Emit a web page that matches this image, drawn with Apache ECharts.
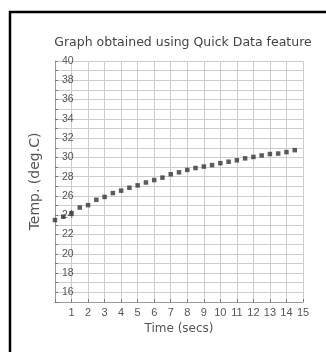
<!DOCTYPE html>
<html><head><meta charset="utf-8">
<script src="https://cdn.jsdelivr.net/npm/echarts@6/dist/echarts.min.js"></script>
<style>html,body{margin:0;padding:0;background:#fff}#c{width:326px;height:352px}</style>
</head><body><div id="c"></div>
<script>
const timeSecs = [0,0.5,1,1.5,2,2.5,3,3.5,4,4.5,5,5.5,6,6.5,7,7.5,8,8.5,9,9.5,10,10.5,11,11.5,12,12.5,13,13.5,14,14.5];
const tempDegC = [23.5,23.85,24.2,24.8,25.05,25.6,25.9,26.3,26.55,26.85,27.1,27.4,27.65,27.9,28.25,28.45,28.7,28.9,29.05,29.2,29.4,29.55,29.7,29.9,30.05,30.2,30.35,30.4,30.55,30.75];
const titleText = 'Graph obtained using Quick Data feature';
const xName = 'Time (secs)';
const yName = 'Temp. (deg.C)';

const chart = echarts.init(document.getElementById('c'), null, {renderer:'canvas'});
const txt = '#555';
chart.setOption({
  animation:false,
  backgroundColor:'#fff',
  title:{text:titleText,left:178,top:31,textAlign:'center',textStyle:{fontFamily:'DejaVu Sans',fontSize:12.5,fontWeight:'normal',color:'#444'}},
  grid:{left:55,right:23,top:61,bottom:50,containLabel:false},
  xAxis:{type:'value',min:0,max:15,interval:1,
    name:xName,nameLocation:'middle',nameGap:20,
    nameTextStyle:{fontFamily:'DejaVu Sans',fontSize:12,color:txt},
    axisLine:{lineStyle:{color:'#999',width:1}},
    axisTick:{show:true,inside:true,length:3,lineStyle:{color:'#777'}},
    axisLabel:{fontFamily:'Liberation Sans',fontSize:11,color:txt,margin:5,
      formatter:v=>v===0?'':String(v)},
    splitLine:{show:true,lineStyle:{color:'#ccc',width:1}}},
  yAxis:{type:'value',min:15,max:40,interval:1,
    name:yName,nameLocation:'middle',nameGap:13,nameRotate:90,
    nameTextStyle:{fontFamily:'DejaVu Sans',fontSize:14,color:txt},
    axisLine:{show:true,lineStyle:{color:'#999',width:1}},
    axisTick:{show:true,inside:true,length:3,lineStyle:{color:'#777'}},
    axisLabel:{inside:true,fontFamily:'Liberation Sans',fontSize:10.5,color:txt,margin:7,
      formatter:v=>(v%2===0)?String(v):''},
    splitLine:{show:true,lineStyle:{color:'#ccc',width:1}}},
  series:[{type:'scatter',data:timeSecs.map((t,i)=>[t,tempDegC[i]]),
    symbol:'rect',symbolSize:4.5,itemStyle:{color:'#333'}}],
  graphic:[
    {type:'line',shape:{x1:9,y1:12,x2:326,y2:12},style:{stroke:'#000',lineWidth:2.5}},
    {type:'line',shape:{x1:10,y1:11,x2:10,y2:352},style:{stroke:'#000',lineWidth:2.5}}
  ]
});
</script></body></html>
